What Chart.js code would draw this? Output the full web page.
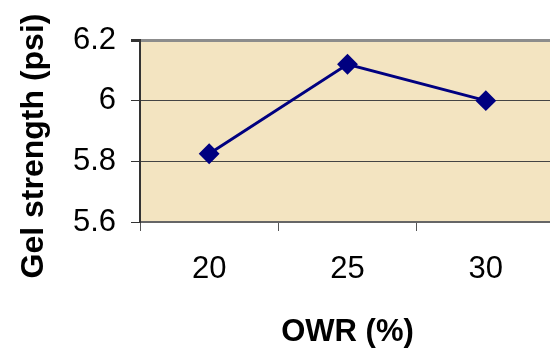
<!DOCTYPE html>
<html>
<head>
<meta charset="utf-8">
<script src="https://cdn.jsdelivr.net/npm/chart.js@4"></script>
<style>
  body { margin: 0; background: #fff; overflow: hidden; }
</style>
</head>
<body>
<canvas id="gel-chart" width="566" height="352"></canvas>
<script>
// values
const owr_labels = ["20", "25", "30"];
const gel_strength = [5.825, 6.12, 6.0];
const y_ticks = [5.6, 5.8, 6.0, 6.2];

const font_family = "'Liberation Sans', Arial, sans-serif";

// parchment-ish fill behind the plot + the rotated y title
const plotBackground = {
  id: "plotBackground",
  beforeDraw: function (chart) {
    const a = chart.chartArea;
    const ctx = chart.ctx;
    ctx.save();
    ctx.fillStyle = "#f3e4c1";
    ctx.fillRect(a.left, a.top, a.right - a.left, a.bottom - a.top);
    ctx.restore();
  },
  afterDraw: function (chart) {
    const ctx = chart.ctx;
    ctx.save();
    ctx.translate(43, 146);
    ctx.rotate(-Math.PI / 2);
    ctx.font = "bold 32px " + font_family;
    ctx.fillStyle = "#000";
    ctx.textAlign = "center";
    ctx.textBaseline = "alphabetic";
    ctx.fillText("Gel strength (psi)", 0, 0);
    ctx.restore();
  }
};

new Chart(document.getElementById("gel-chart"), {
  type: "line",
  data: {
    labels: owr_labels,
    datasets: [{
      data: gel_strength,
      borderColor: "#000080",
      backgroundColor: "#000080",
      borderWidth: 3,
      lineTension: 0,
      fill: false,
      pointStyle: "rectRot",
      pointRadius: 9,
      pointBorderWidth: 2,
      pointBorderColor: "#000080",
      pointBackgroundColor: "#000080"
    }]
  },
  plugins: [plotBackground],
  options: {
    animation: false,
    responsive: false,
    layout: { padding: { top: 40, right: 4, left: 0, bottom: 0 } },
    plugins: {
      legend: { display: false },
      tooltip: { enabled: false }
    },
    scales: {
      x: {
        offset: true,
        afterFit: function (scale) { scale.height = 130; },
        grid: {
          offset: true,
          drawOnChartArea: false,
          tickLength: 9,
          color: "#555"
        },
        border: { color: "#666", width: 2 },
        ticks: {
          color: "#000",
          padding: 20,
          maxRotation: 0,
          font: { family: font_family, size: 31 }
        },
        title: {
          display: true,
          text: "OWR (%)",
          color: "#000",
          padding: { top: 0, bottom: 1 },
          font: { family: font_family, size: 31, weight: "bold" }
        }
      },
      y: {
        min: y_ticks[0],
        max: y_ticks[y_ticks.length - 1],
        afterFit: function (scale) { scale.width = 140; },
        afterBuildTicks: function (scale) {
          scale.ticks = y_ticks.map(function (v) { return { value: v }; });
        },
        grid: {
          tickLength: 9,
          tickColor: "#333",
          color: function (c) {
            return (c.tick && Math.abs(c.tick.value - 6.2) < 1e-6) ? "#8c8c8c" : "#444";
          },
          lineWidth: function (c) {
            return (c.tick && Math.abs(c.tick.value - 6.2) < 1e-6) ? 3 : 1;
          }
        },
        border: { color: "#333", width: 2 },
        ticks: {
          color: "#000",
          padding: 15,
          font: { family: font_family, size: 31 },
          callback: function (v) { return String(Math.round(v * 10) / 10); }
        }
      }
    }
  }
});
</script>
</body>
</html>
